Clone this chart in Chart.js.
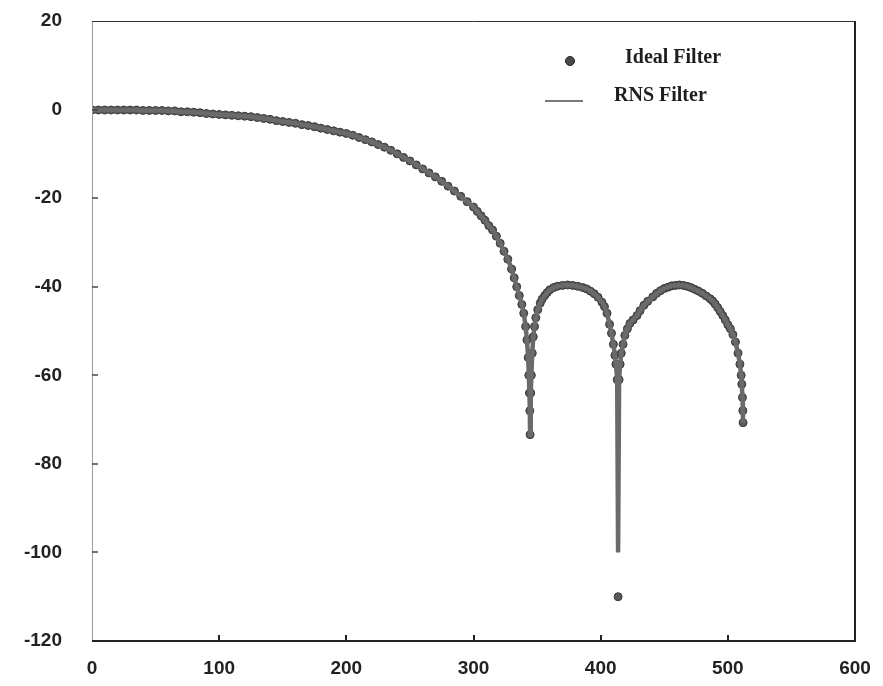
<!DOCTYPE html>
<html>
<head>
<meta charset="utf-8">
<script src="https://cdn.jsdelivr.net/npm/chart.js@4"></script>
<style>
  html, body { margin: 0; padding: 0; background: #ffffff; }
  #wrap { width: 883px; height: 686px; }
</style>
</head>
<body>
<div id="wrap"><canvas id="c" width="883" height="686"></canvas></div>
<script>
// ---- data ----
const xs = [
  0, 5, 10, 15, 20, 25, 30, 35, 40, 45, 50, 55, 60, 65, 70, 75, 80, 85, 90, 95,
  100, 105, 110, 115, 120, 125, 130, 135, 140, 145, 150, 155, 160, 165, 170, 175,
  180, 185, 190, 195, 200, 205, 210, 215, 220, 225, 230, 235, 240, 245, 250, 255,
  260, 265, 270, 275, 280, 285, 290, 295, 300,
  303, 306, 309, 312, 315, 318, 321, 324, 327, 330, 332, 334, 336, 338, 339.5,
  341, 342, 343, 343.5, 344, 344.3, 344.5,
  345, 345.5, 346.2, 347, 348, 349, 350.5, 352.5, 354, 356, 358, 360, 363, 366,
  370, 374, 378, 382, 386, 389, 392, 395, 398, 401, 403, 405, 407, 408.5, 410,
  411.2, 412, 413, 413.7,
  414.5, 415.3, 416.2, 417.6, 419, 421, 423, 425.5, 428.6, 431, 434, 437, 441,
  444, 447, 450, 453, 456, 459, 462, 465, 468, 471, 474, 477, 480, 483, 486,
  488, 490, 492, 494, 496, 498, 500, 502, 504, 506, 508, 509.5, 510.5, 511,
  511.5, 511.8, 512
];
const idealDb = [
  -0.1, -0.1, -0.1, -0.1, -0.1, -0.1, -0.1, -0.1, -0.2, -0.2, -0.2, -0.2, -0.3, -0.3, -0.5, -0.5, -0.6, -0.7, -0.9, -1.0,
  -1.1, -1.2, -1.3, -1.4, -1.5, -1.6, -1.8, -2.0, -2.2, -2.5, -2.7, -2.9, -3.1, -3.4, -3.6, -3.9,
  -4.2, -4.5, -4.8, -5.1, -5.4, -5.8, -6.3, -6.8, -7.3, -7.9, -8.5, -9.2, -10.0, -10.8, -11.6, -12.5,
  -13.4, -14.3, -15.2, -16.2, -17.3, -18.4, -19.6, -20.8, -22.0,
  -23.0, -24.0, -25.0, -26.2, -27.2, -28.6, -30.2, -32.0, -33.8, -36.0, -38.0, -40.0, -42.0, -44.0, -46.0,
  -49.0, -52.0, -56.0, -60.0, -64.0, -68.0, -73.4,
  -64.0, -60.0, -55.0, -51.3, -49.0, -47.0, -45.2, -43.7, -42.8, -42.0, -41.3, -40.7, -40.2, -39.9,
  -39.7, -39.6, -39.7, -39.9, -40.2, -40.5, -41.0, -41.6, -42.4, -43.5, -44.5, -46.0, -48.5, -50.5, -53.0,
  -55.5, -57.5, -61.0, -110.0,
  -61.0, -57.5, -55.0, -53.0, -51.0, -49.5, -48.3, -47.5, -46.5, -45.4, -44.2, -43.3, -42.3,
  -41.5, -40.9, -40.4, -40.1, -39.8, -39.7, -39.6, -39.7, -39.9, -40.2, -40.6, -41.0, -41.5, -42.1, -42.7,
  -43.2, -43.9, -44.7, -45.6, -46.5, -47.5, -48.6, -49.5, -50.8, -52.5, -55.0, -57.5, -60.0, -62.0,
  -65.0, -68.0, -70.7
];
// RNS filter follows the ideal response except at the deep null, where it stops at -100 dB
const rnsNullX = 413.7;
const rnsNullDb = -100;
const rnsDb = idealDb.map((v, i) => (xs[i] === rnsNullX ? rnsNullDb : v));

const xTicks = [0, 100, 200, 300, 400, 500, 600];
const yTicks = [20, 0, -20, -40, -60, -80, -100, -120];
const seriesNames = ['Ideal Filter', 'RNS Filter'];

const idealPts = xs.map((x, i) => ({ x: x, y: idealDb[i] }));
const rnsPts = xs.map((x, i) => ({ x: x, y: rnsDb[i] }));

const tickFont = { family: '"Liberation Sans", Arial, sans-serif', size: 19, weight: 'bold' };

const framePlugin = {
  id: 'frame',
  afterDraw(chart) {
    const ctx = chart.ctx;
    const a = chart.chartArea;
    const xs_ = chart.scales.x, ys_ = chart.scales.y;
    ctx.save();
    // frame
    ctx.strokeStyle = '#9a9a9a'; ctx.lineWidth = 1;
    ctx.beginPath(); ctx.moveTo(a.left + 0.5, a.top); ctx.lineTo(a.left + 0.5, a.bottom); ctx.stroke();
    ctx.strokeStyle = '#333'; ctx.lineWidth = 1;
    ctx.beginPath(); ctx.moveTo(a.left, a.top + 0.5); ctx.lineTo(a.right, a.top + 0.5); ctx.stroke();
    ctx.strokeStyle = '#222'; ctx.lineWidth = 2;
    ctx.beginPath(); ctx.moveTo(a.right, a.top); ctx.lineTo(a.right, a.bottom); ctx.stroke();
    ctx.beginPath(); ctx.moveTo(a.left, a.bottom); ctx.lineTo(a.right + 1, a.bottom); ctx.stroke();
    // inward tick marks
    ctx.lineWidth = 2; ctx.strokeStyle = '#222';
    xTicks.forEach(v => {
      if (v <= 0 || v >= 600) return;
      const px = Math.round(xs_.getPixelForValue(v));
      ctx.beginPath(); ctx.moveTo(px, a.bottom); ctx.lineTo(px, a.bottom - 6); ctx.stroke();
    });
    ctx.lineWidth = 1.5; ctx.strokeStyle = '#444';
    yTicks.forEach(v => {
      if (v >= 20 || v <= -120) return;
      const py = Math.round(ys_.getPixelForValue(v));
      ctx.beginPath(); ctx.moveTo(a.left, py); ctx.lineTo(a.left + 6, py); ctx.stroke();
    });
    // legend
    ctx.fillStyle = '#1e1e1e';
    ctx.font = 'bold 20px "Liberation Serif", "Times New Roman", serif';
    ctx.textBaseline = 'alphabetic';
    ctx.textAlign = 'left';
    ctx.fillText(seriesNames[0], 625, 63);
    ctx.fillText(seriesNames[1], 614, 101);
    ctx.beginPath(); ctx.arc(570, 61, 4.5, 0, Math.PI * 2);
    ctx.fillStyle = '#4a4a4a'; ctx.fill();
    ctx.strokeStyle = '#222'; ctx.lineWidth = 1; ctx.stroke();
    ctx.strokeStyle = '#7a7a7a'; ctx.lineWidth = 2;
    ctx.beginPath(); ctx.moveTo(545, 101); ctx.lineTo(583, 101); ctx.stroke();
    ctx.restore();
  }
};

new Chart(document.getElementById('c'), {
  type: 'scatter',
  data: {
    datasets: [
      {
        label: seriesNames[1],
        data: rnsPts,
        showLine: true,
        borderColor: '#6a6a6a',
        borderWidth: 4.5,
        pointRadius: 0,
        order: 0
      },
      {
        label: seriesNames[0],
        data: idealPts,
        showLine: false,
        pointRadius: 4,
        pointBackgroundColor: '#5a5a5a',
        pointBorderColor: '#3a3a3a',
        pointBorderWidth: 1,
        order: 1
      }
    ]
  },
  options: {
    responsive: false,
    devicePixelRatio: 1,
    animation: false,
    events: [],
    layout: { padding: { top: 21, right: 28, left: 0, bottom: 0 } },
    plugins: { legend: { display: false }, tooltip: { enabled: false } },
    scales: {
      x: {
        type: 'linear', min: 0, max: 600,
        afterBuildTicks: s => { s.ticks = xTicks.map(v => ({ value: v })); },
        ticks: { font: tickFont, color: '#222', padding: 0, maxRotation: 0 },
        grid: { display: false, drawTicks: true, tickLength: 16 },
        border: { display: false },
        afterFit: s => { s.height = 45; }
      },
      y: {
        type: 'linear', min: -120, max: 20,
        afterBuildTicks: s => { s.ticks = yTicks.map(v => ({ value: v })); },
        ticks: { font: tickFont, color: '#222', padding: 0 },
        grid: { display: false, drawTicks: true, tickLength: 30 },
        border: { display: false },
        afterFit: s => { s.width = 92; }
      }
    }
  },
  plugins: [framePlugin]
});
</script>
</body>
</html>
